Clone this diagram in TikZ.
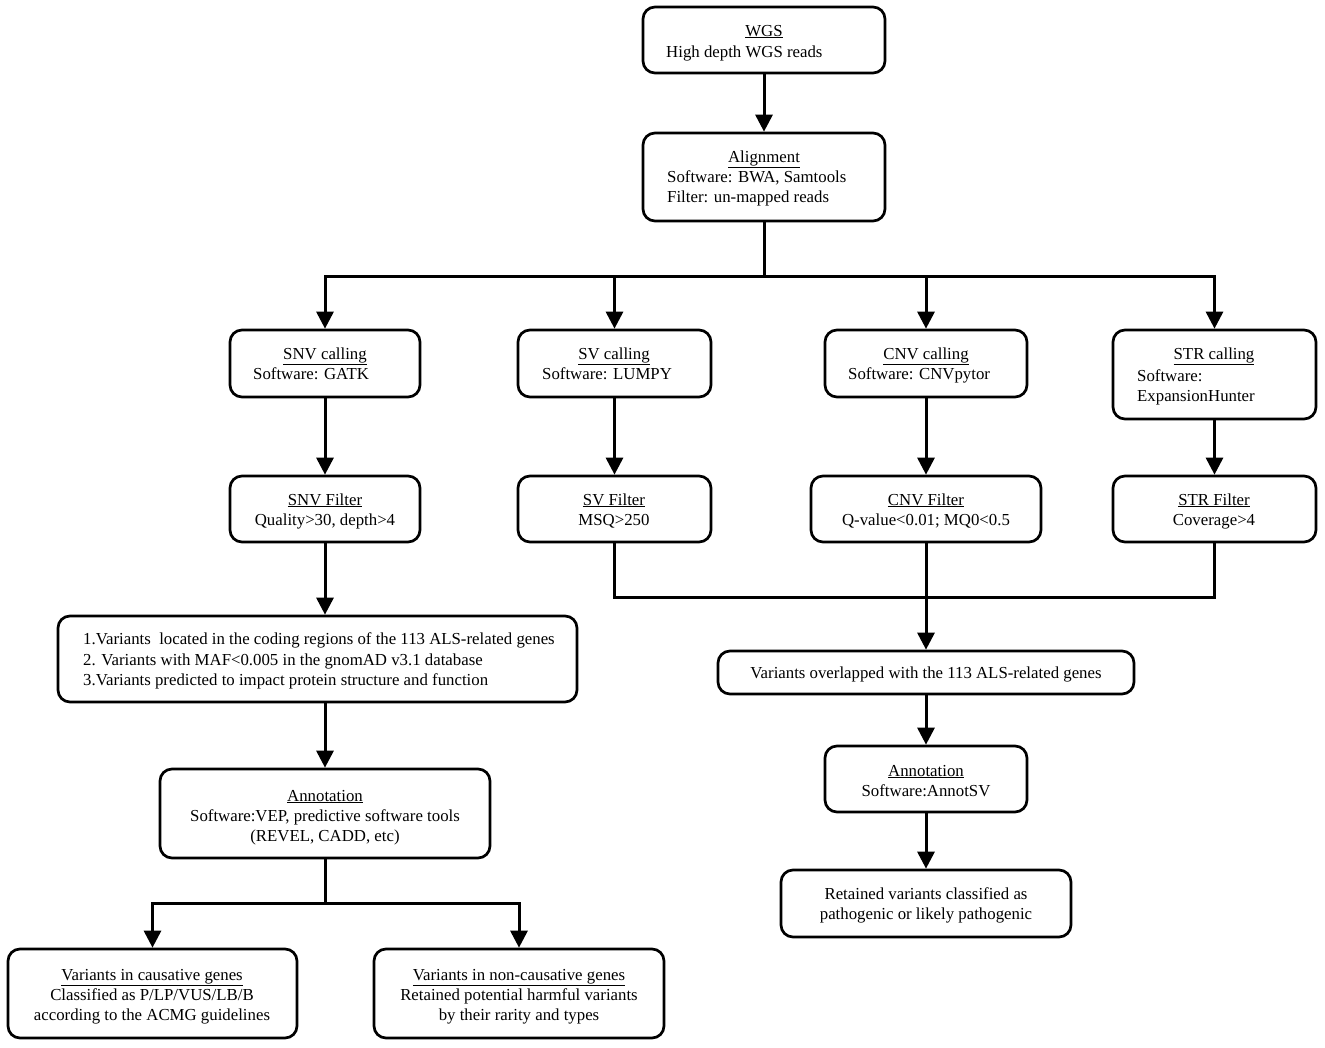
\documentclass[tikz,border=0pt]{standalone}
\usepackage{fontspec}
\setmainfont{Liberation Serif}
\usetikzlibrary{arrows.meta}
\tikzset{
  x=1pt, y=-1pt,
  flowbox/.style={draw=black, line width=2.7pt, rounded corners=12pt, inner sep=0pt, fill=white},
  txt/.style={inner sep=0pt, anchor=base, font=\fontsize{16.8}{20}\selectfont},
  txtl/.style={txt, anchor=base west},
  conn/.style={line width=3pt},
  arr/.style={conn, -{Triangle[width=17pt,length=17pt]}},
}
\newcommand\mkbox[5]{\node[flowbox, minimum width={#4-#2}, minimum height={#5-#3}] (#1) at ({(#2+#4)/2},{(#3+#5)/2}) {};}
\newcommand\ul[1]{\underline{#1}}
\begin{document}
\begin{tikzpicture}
\useasboundingbox (0,0) rectangle (1325,1047);
% boxes
\mkbox{wgs}{643}{7}{885}{73}
\mkbox{align}{643}{133}{885}{221}
\mkbox{snvc}{230}{330}{420}{397}
\mkbox{svc}{518}{330}{711}{397}
\mkbox{cnvc}{825}{330}{1027}{397}
\mkbox{strc}{1113}{330}{1316}{419}
\mkbox{snvf}{230}{476}{420}{542}
\mkbox{svf}{518}{476}{711}{542}
\mkbox{cnvf}{811}{476}{1041}{542}
\mkbox{strf}{1113}{476}{1316}{542}
\mkbox{list}{58}{616}{577}{702}
\mkbox{annl}{160}{769}{490}{858}
\mkbox{caus}{8}{949}{297}{1038}
\mkbox{ncaus}{374}{949}{664}{1038}
\mkbox{ovl}{718}{651}{1134}{694}
\mkbox{annr}{825}{746}{1027}{812}
\mkbox{ret}{781}{870}{1071}{937}
% texts
\node[txt] (t1) at (764,36) {\ul{WGS}};
\node[txtl] (t2) at (666,57) {High depth WGS reads};
\node[txt] (t3) at (764,162) {\ul{Alignment}};
\node[txtl] (t4) at (667,182) {Software: BWA, Samtools};
\node[txtl] (t5) at (667,202) {Filter: un-mapped reads};
\node[txt] (t6) at (325,359) {\ul{SNV calling}};
\node[txtl] (t7) at (253,379) {Software: GATK};
\node[txt] (t8) at (614,359) {\ul{SV calling}};
\node[txtl] (t9) at (542,379) {Software: LUMPY};
\node[txt] (t10) at (926,359) {\ul{CNV calling}};
\node[txtl] (t11) at (848,379) {Software: CNVpytor};
\node[txt] (t12) at (1214,359) {\ul{STR calling}};
\node[txtl] (t13) at (1137,381) {Software:};
\node[txtl] (t14) at (1137,401) {ExpansionHunter};
\node[txt] (t15) at (325,505) {\ul{SNV Filter}};
\node[txt] (t16) at (325,525) {Quality>30, depth>4};
\node[txt] (t17) at (614,505) {\ul{SV Filter}};
\node[txt] (t18) at (614,525) {MSQ>250};
\node[txt] (t19) at (926,505) {\ul{CNV Filter}};
\node[txt] (t20) at (926,525) {Q-value<0.01; MQ0<0.5};
\node[txt] (t21) at (1214,505) {\ul{STR Filter}};
\node[txt] (t22) at (1214,525) {Coverage>4};
\node[txtl] (t23) at (83,644) {1.Variants\ \ located in the coding regions of the 113 ALS-related genes};
\node[txtl] (t24) at (83,665) {2. Variants with MAF<0.005 in the gnomAD v3.1 database};
\node[txtl] (t25) at (83,685) {3.Variants predicted to impact protein structure and function};
\node[txt] (t26) at (325,801) {\ul{Annotation}};
\node[txt] (t27) at (325,821) {Software:VEP, predictive software tools};
\node[txt] (t28) at (325,841) {(REVEL, CADD, etc)};
\node[txt] (t29) at (152,980) {\ul{Variants in causative genes}};
\node[txt] (t30) at (152,1000) {Classified as P/LP/VUS/LB/B};
\node[txt] (t31) at (152,1020) {according to the ACMG guidelines};
\node[txt] (t32) at (519,980) {\ul{Variants in non-causative genes}};
\node[txt] (t33) at (519,1000) {Retained potential harmful variants};
\node[txt] (t34) at (519,1020) {by their rarity and types};
\node[txt] (t35) at (926,678) {Variants overlapped with the 113 ALS-related genes};
\node[txt] (t36) at (926,776) {\ul{Annotation}};
\node[txt] (t37) at (926,796) {Software:AnnotSV};
\node[txt] (t38) at (926,899) {Retained variants classified as};
\node[txt] (t39) at (926,919) {pathogenic or likely pathogenic};
% connectors
\coordinate (bar) at (764,276);
\draw[arr] (wgs) -- (align);
\draw[conn] (align.south) -- (bar);
\draw[arr] (bar) -| (snvc.north);
\draw[arr] (bar) -| (strc.north);
\draw[arr] (svc.north |- bar) -- (svc.north);
\draw[arr] (cnvc.north |- bar) -- (cnvc.north);
\draw[arr] (snvc) -- (snvf);
\draw[arr] (svc) -- (svf);
\draw[arr] (cnvc) -- (cnvf);
\draw[arr] (strc) -- (strf);
\draw[arr] (snvf.south) -- (snvf.south |- list.north);
\coordinate (merge) at (926,597);
\draw[conn] (svf.south) |- (merge);
\draw[conn] (strf.south) |- (merge);
\draw[arr] (cnvf.south) -- (ovl.north);
\draw[arr] (ovl) -- (annr);
\draw[arr] (annr) -- (ret);
\draw[arr] (snvf.south |- list.south) -- (annl.north);
\coordinate (split) at (325,903);
\draw[conn] (annl.south) -- (split);
\draw[arr] (split) -| (caus.north);
\draw[arr] (split) -| (ncaus.north);
\end{tikzpicture}
\end{document}
